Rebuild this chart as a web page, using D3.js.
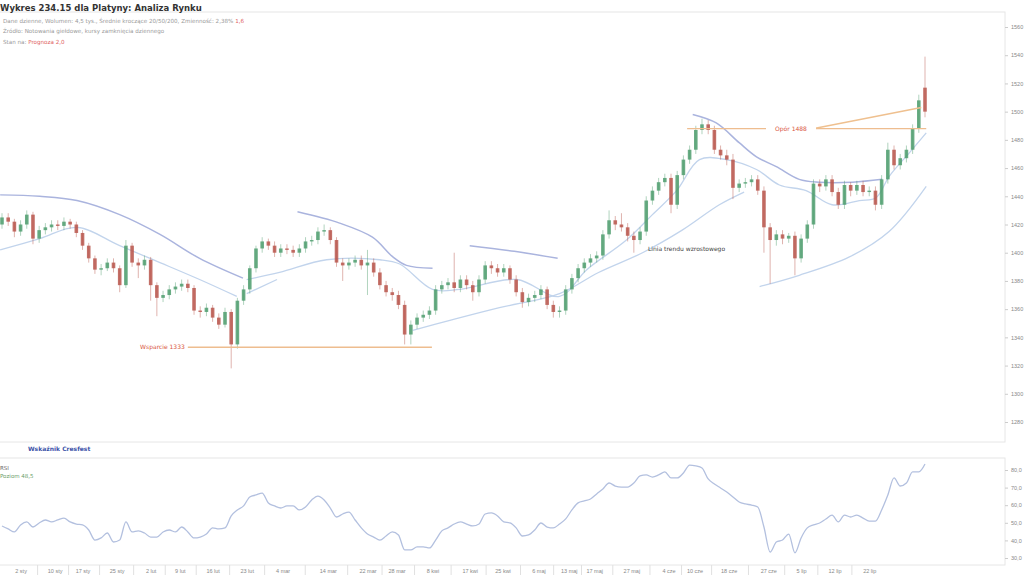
<!DOCTYPE html>
<html><head><meta charset="utf-8">
<script src="https://cdn.jsdelivr.net/npm/d3@7"></script>
<style>body{margin:0;background:#fff;} svg{display:block;font-family:"DejaVu Sans",sans-serif;}</style>
</head><body><svg id="c" width="1024" height="576"></svg>
<script>
// ---- data ----
const openP = [1420,1425,1422,1415,1420,1427,1410,1416,1418,1420,
1419,1422,1420,1414,1405,1396,1388,1389,1393,1389,
1377,1405,1393,1391,1395,1377,1368,1370,1374,1376,
1378,1375,1359,1358,1361,1354,1349,1358,1335,1366,
1374,1389,1403,1408,1405,1400,1403,1402,1400,1403,
1408,1409,1415,1416,1409,1393,1391,1393,1395,1391,
1393,1386,1377,1372,1370,1363,1342,1349,1354,1356,
1359,1374,1377,1379,1375,1381,1377,1372,1381,1391,
1389,1386,1389,1381,1372,1365,1368,1370,1374,1363,
1358,1359,1374,1382,1389,1393,1396,1398,1413,1423,
1420,1418,1412,1409,1415,1437,1444,1450,1453,1434,
1455,1466,1473,1487,1491,1487,1473,1469,1466,1446,
1449,1450,1452,1444,1418,1409,1413,1410,1412,1396,
1410,1420,1449,1447,1452,1443,1434,1448,1444,1448,
1443,1444,1434,1452,1473,1462,1467,1473,1488,1517];
const closeP = [1425,1422,1415,1420,1427,1410,1416,1418,1420,1419,
1422,1420,1414,1405,1396,1388,1389,1393,1389,1377,
1405,1393,1391,1395,1377,1368,1370,1374,1376,1378,
1375,1359,1358,1361,1354,1349,1358,1335,1366,1374,
1389,1403,1408,1405,1400,1403,1402,1400,1403,1408,
1409,1415,1416,1409,1393,1391,1393,1395,1391,1393,
1386,1377,1372,1370,1363,1342,1349,1354,1356,1359,
1374,1377,1379,1375,1381,1377,1372,1381,1391,1389,
1386,1389,1381,1372,1365,1368,1370,1374,1363,1358,
1359,1374,1382,1389,1393,1396,1398,1413,1423,1420,
1418,1412,1409,1415,1437,1444,1450,1453,1434,1455,
1466,1473,1487,1491,1487,1473,1469,1466,1446,1449,
1450,1452,1444,1418,1409,1413,1410,1412,1396,1410,
1420,1449,1447,1452,1443,1434,1448,1444,1448,1443,
1444,1434,1452,1473,1462,1467,1473,1488,1508,1500];
const highP = [1428,1428,1424,1423,1430,1429,1419,1421,1423,1423,
1425,1424,1422,1416,1407,1398,1392,1396,1396,1391,
1409,1407,1396,1398,1397,1379,1373,1377,1379,1381,
1381,1377,1362,1364,1363,1357,1361,1360,1368,1377,
1391,1405,1411,1410,1408,1406,1406,1405,1406,1411,
1412,1418,1420,1418,1411,1396,1396,1398,1398,1402,
1396,1389,1380,1375,1373,1366,1352,1357,1359,1362,
1377,1380,1382,1400,1384,1384,1380,1384,1394,1394,
1392,1392,1391,1384,1375,1371,1373,1377,1376,1366,
1362,1377,1385,1392,1396,1399,1401,1416,1430,1426,
1428,1421,1415,1418,1440,1447,1453,1456,1456,1458,
1469,1476,1490,1495,1494,1490,1476,1473,1470,1452,
1453,1455,1455,1447,1421,1416,1416,1414,1415,1413,
1423,1452,1452,1455,1455,1446,1451,1450,1451,1451,
1447,1447,1455,1478,1476,1470,1476,1491,1512,1539];
const lowP = [1417,1419,1411,1412,1417,1406,1407,1413,1415,1416,
1416,1417,1411,1402,1393,1385,1384,1387,1386,1372,
1375,1390,1382,1388,1366,1355,1365,1367,1371,1373,
1372,1356,1354,1355,1351,1346,1347,1318,1332,1363,
1371,1386,1400,1402,1397,1397,1399,1397,1397,1400,
1405,1406,1412,1406,1390,1380,1388,1390,1388,1370,
1383,1374,1369,1366,1360,1335,1335,1346,1351,1353,
1356,1371,1374,1372,1372,1374,1366,1369,1378,1385,
1383,1383,1378,1369,1361,1362,1365,1367,1360,1354,
1354,1356,1371,1379,1386,1390,1393,1395,1410,1416,
1415,1408,1400,1406,1412,1434,1441,1447,1428,1431,
1452,1463,1470,1484,1484,1470,1466,1462,1438,1443,
1446,1447,1441,1400,1378,1405,1406,1407,1384,1393,
1407,1417,1443,1444,1440,1431,1431,1440,1441,1440,
1440,1430,1431,1449,1459,1459,1464,1470,1485,1496];
const rsiVals = [48.2,46.5,44.8,48.8,50.5,47.6,49.9,51.6,50.5,51.6,
52.7,50.5,49.3,48.8,45.9,40.2,41.4,44.2,39.1,40.2,
50.5,44.8,45.4,44.2,41.9,41.9,44.8,45.9,44.8,47.6,
44.8,41.4,41.9,43.6,47.1,46.5,47.1,53.9,57.3,59.6,
64.7,65.8,66.9,61.3,59.6,58.4,59.6,59.6,57.3,59.0,
63.0,65.2,63.0,58.4,53.3,55.0,56.1,51.6,47.1,43.6,
41.9,40.2,42.5,44.8,43.1,34.6,34.6,36.3,36.3,35.7,
40.2,45.4,47.1,49.3,50.5,49.3,48.2,49.3,55.0,55.6,
53.9,50.5,49.9,47.1,42.5,43.1,45.9,49.9,47.6,47.1,
49.3,52.2,57.3,61.3,62.4,63.5,66.4,69.2,72.6,70.9,
70.3,70.3,72.6,76.6,77.2,76.0,77.2,78.9,75.5,75.5,
78.3,82.8,82.3,81.1,74.9,72.0,69.8,67.5,64.7,61.8,
60.7,60.1,59.0,47.6,33.4,39.1,40.2,43.6,32.9,41.4,
47.1,48.8,49.9,52.2,54.4,50.5,54.4,53.3,54.4,52.7,
51.0,51.0,57.3,65.8,75.5,70.9,72.6,78.9,78.9,83.4];
// moving-average style curves, as segments of [candle index, price]
const maDark = [
 [[-0.3,1441],[6.1,1440],[12.1,1437],[19,1427],[25.5,1413],[31.9,1396],[38.9,1382]],
 [[47.7,1429],[54.5,1421],[59.8,1411],[63.1,1397],[65.3,1391],[69.5,1389]],
 [[75.5,1405],[82.7,1401],[89.7,1396]],
 [[111.5,1498],[115.3,1492],[119,1478],[121.8,1468],[125,1461],[128.7,1452],[131.9,1450],[137.3,1450],[142.1,1452]]
];
const maLight = [
 [[-0.3,1402],[6.1,1410],[12.1,1418],[19,1405],[25.5,1393],[31.9,1381],[37.9,1369]],
 [[39.5,1371],[44.4,1381]],
 [[39.5,1381],[44.8,1386],[52.4,1395],[61,1395],[64.2,1392],[69.5,1374],[73.9,1374],[83.1,1381],[90,1369],[94.4,1388],[100.8,1409],[105,1427],[108.9,1444],[112.6,1466],[116.9,1466],[121.8,1459],[125.5,1448],[129.8,1444],[134,1434],[138.4,1437],[141.1,1439],[143.2,1454],[146.5,1471],[149.2,1485]],
 [[66.3,1345],[72.3,1352],[80.3,1361],[90,1371],[96.3,1386],[103.4,1400],[109.8,1416],[115.8,1434],[119.8,1443]],
 [[122.3,1376],[128.7,1384],[136.8,1397],[143.2,1415],[149.2,1447]]
];
const priceTicks = [1280,1300,1320,1340,1360,1380,1400,1420,1440,1460,1480,1500,1520,1540,1560];
const rsiTicks = [30,40,50,60,70,80];
const dateIdx = [3,8.5,13,18.5,24,28.7,34,39.5,45.3,52.6,59,63.7,69.5,75.5,80.8,86.6,91.5,95.6,101.6,107.6,111.8,117.3,123.7,129,134.4,140];
const dateLabels = ["2 sty","10 sty","17 sty","25 sty","2 lut","9 lut","16 lut","23 lut","4 mar","14 mar","22 mar","28 mar","8 kwi","17 kwi","25 kwi","6 maj","13 maj","17 maj","27 maj","4 cze","10 cze","18 cze","27 cze","5 lip","12 lip","22 lip"];
const supportLevel = 1333, supportFrom = 30, supportTo = 69.4;
const resistLevel = 1488, resistFrom = 110.6, resistTo = 149.2;
const resistDiag = [[131.1,1488],[148.4,1503]];

// ---- layout ----
const svg = d3.select("#c");
const x = d3.scaleLinear().domain([0,149]).range([2,925]);
const y = d3.scaleLinear().domain([1280,1560]).range([422,27]);
const yR = d3.scaleLinear().domain([30,80]).range([558,470]);

// panels
svg.append("rect").attr("x",-1).attr("y",12).attr("width",1006).attr("height",430)
  .attr("fill","#fff").attr("stroke","#e6e6e6");
svg.append("rect").attr("x",-1).attr("y",458).attr("width",1006).attr("height",107)
  .attr("fill","#fff").attr("stroke","#e6e6e6");

// title
svg.append("text").attr("x",0).attr("y",11).attr("font-size",8.5).attr("font-weight","bold")
  .attr("fill","#333").text("Wykres 234.15 dla Platyny: Analiza Rynku");
const sub = svg.append("g").attr("font-size",5.6).attr("fill","#9a9a9a");
const s1 = sub.append("text").attr("x",3).attr("y",23);
s1.append("tspan").text("Dane dzienne, Wolumen: 4,5 tys., Średnie kroczące 20/50/200, Zmienność: 2,38%  ");
s1.append("tspan").attr("fill","#e06060").text("1,6");
sub.append("text").attr("x",3).attr("y",33).text("Źródło: Notowania giełdowe, kursy zamknięcia dziennego");
const s3 = sub.append("text").attr("x",3).attr("y",44);
s3.append("tspan").text("Stan na:  ");
s3.append("tspan").attr("fill","#e06060").text("Prognoza 2,0");

// right axis main
const axR = svg.append("g").attr("transform","translate(1005,0)")
  .call(d3.axisRight(y).tickValues(priceTicks).tickSize(3).tickFormat(d3.format("d")));
axR.select(".domain").remove();
axR.selectAll("line").attr("stroke","#ccc");
axR.selectAll("text").attr("font-size",5.5).attr("fill","#888").attr("x",6);

// curves
const line = d3.line().x(d=>x(d[0])).y(d=>y(d[1])).curve(d3.curveCatmullRom);
svg.append("g").selectAll("path").data(maLight).join("path").attr("d",line)
  .attr("fill","none").attr("stroke","#c2d4ec").attr("stroke-width",1.3);
svg.append("g").selectAll("path").data(maDark).join("path").attr("d",line)
  .attr("fill","none").attr("stroke","#aab4de").attr("stroke-width",1.5);

// candles
const idx = d3.range(closeP.length);
const up = "#4f9d6e", dn = "#b9564c";
const cg = svg.append("g");
cg.selectAll("line").data(idx).join("line")
  .attr("x1",i=>x(i)).attr("x2",i=>x(i)).attr("y1",i=>y(highP[i])).attr("y2",i=>y(lowP[i]))
  .attr("stroke",i=>closeP[i]>=openP[i]?up:dn).attr("stroke-opacity",0.45).attr("stroke-width",1);
cg.selectAll("rect").data(idx).join("rect")
  .attr("x",i=>x(i)-1.8).attr("width",3.6)
  .attr("y",i=>y(Math.max(openP[i],closeP[i])))
  .attr("height",i=>Math.max(1,Math.abs(y(openP[i])-y(closeP[i]))))
  .attr("fill",i=>closeP[i]>=openP[i]?up:dn).attr("fill-opacity",0.85);

// support / resistance
const ann = svg.append("g");
ann.append("line").attr("x1",x(supportFrom)).attr("x2",x(supportTo)).attr("y1",y(supportLevel)).attr("y2",y(supportLevel))
  .attr("stroke","#eebd8f").attr("stroke-width",1.3);
ann.append("text").attr("x",x(supportFrom)-3).attr("y",y(supportLevel)+2).attr("text-anchor","end")
  .attr("font-size",6).attr("fill","#d9573f").text("Wsparcie 1333");
ann.append("line").attr("x1",x(resistFrom)).attr("x2",x(resistTo)).attr("y1",y(resistLevel)).attr("y2",y(resistLevel))
  .attr("stroke","#eebd8f").attr("stroke-width",1.3);
ann.append("line").attr("x1",x(resistDiag[0][0])).attr("y1",y(resistDiag[0][1])).attr("x2",x(resistDiag[1][0])).attr("y2",y(resistDiag[1][1]))
  .attr("stroke","#efc08f").attr("stroke-width",1.5);
ann.append("rect").attr("x",766).attr("y",y(resistLevel)-4).attr("width",50).attr("height",8).attr("fill","#fff");
ann.append("text").attr("x",791).attr("y",y(resistLevel)+2).attr("text-anchor","middle")
  .attr("font-size",6).attr("fill","#d9573f").text("Opór 1488");
ann.append("text").attr("x",648).attr("y",251).attr("font-size",6).attr("fill","#444")
  .text("Linia trendu wzrostowego");

// indicator strip
svg.append("text").attr("x",28).attr("y",451).attr("font-size",6).attr("font-weight","bold")
  .attr("fill","#3b52a8").text("Wskaźnik Cresfest");

// lower panel
svg.append("text").attr("x",0).attr("y",470).attr("font-size",5.5).attr("fill","#666").text("RSI");
svg.append("text").attr("x",0).attr("y",478).attr("font-size",5.5).attr("fill","#6aa06a").text("Poziom 48,5");
const axR2 = svg.append("g").attr("transform","translate(1005,0)")
  .call(d3.axisRight(yR).tickValues(rsiTicks).tickSize(3).tickFormat(d=>d.toFixed(1).replace(".",",")));
axR2.select(".domain").remove();
axR2.selectAll("line").attr("stroke","#ccc");
axR2.selectAll("text").attr("font-size",5.5).attr("fill","#888").attr("x",6);
const rline = d3.line().x((d,i)=>x(i)).y(d=>yR(d)).curve(d3.curveMonotoneX);
svg.append("path").attr("d",rline(rsiVals)).attr("fill","none").attr("stroke","#b3c0df").attr("stroke-width",1.3);

// bottom date axis
const axB = svg.append("g").attr("transform","translate(0,565)")
  .call(d3.axisBottom(x).tickValues(dateIdx).tickSize(0).tickFormat((d,i)=>dateLabels[i]));
axB.select(".domain").remove();
axB.selectAll("text").attr("font-size",5.5).attr("fill","#888").attr("dy","0.9em");
const seps = dateIdx.slice(0,-1).map((d,i)=>(d+dateIdx[i+1])/2);
svg.append("g").selectAll("line").data(seps).join("line")
  .attr("x1",d=>x(d)).attr("x2",d=>x(d)).attr("y1",565).attr("y2",575).attr("stroke","#e0e0e0");
</script></body></html>
